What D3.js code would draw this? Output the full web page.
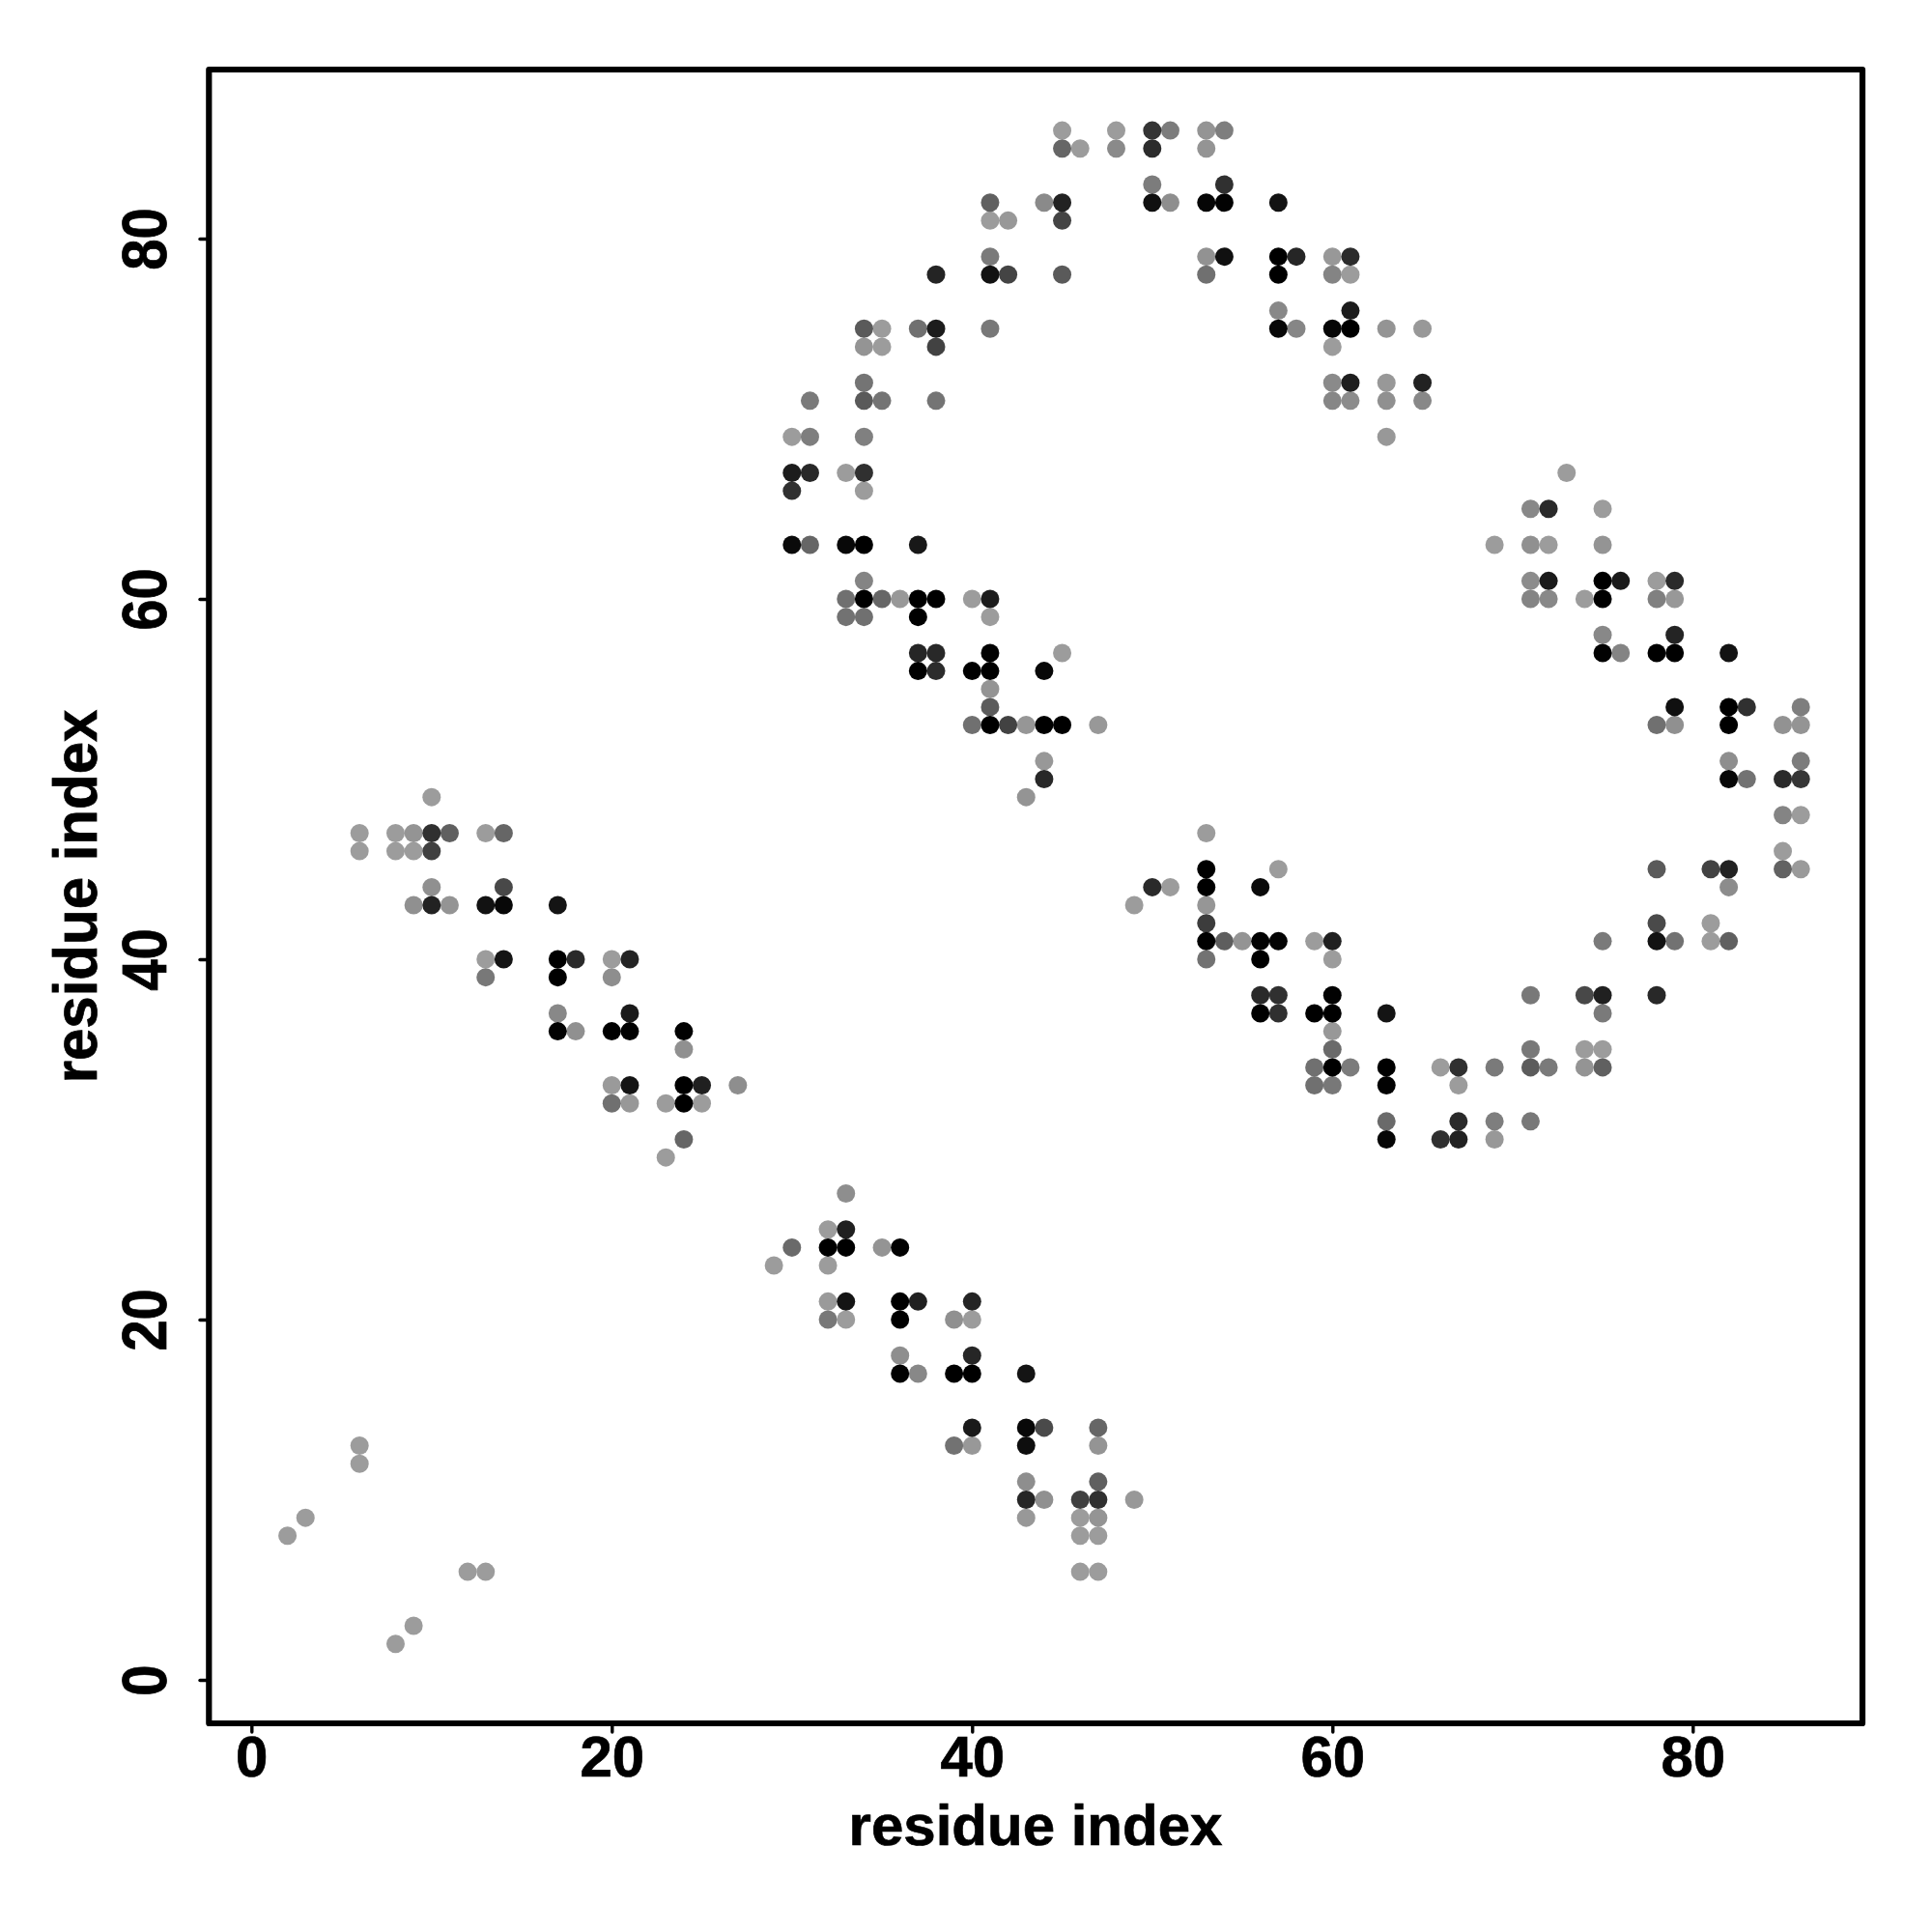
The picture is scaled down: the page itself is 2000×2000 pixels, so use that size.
<!DOCTYPE html>
<html><head><meta charset="utf-8">
<style>html,body{margin:0;padding:0;background:#fff}svg{display:block}</style>
<script src="https://cdn.jsdelivr.net/npm/d3@7/dist/d3.min.js"></script></head>
<body><svg id="c" width="2000" height="2000"></svg>
<script>
const tickValues = [0, 20, 40, 60, 80];
const xTitle = "residue index";
const yTitle = "residue index";
// residue j of each row, residue i of each contact, grey level of each contact
const rowJ = [86,85,83,82,81,79,78,76,75,74,72,71,69,67,66,65,63,61,60,59,58,57,56,55,54,53,51,50,49,48,47,46,45,44,43,42,41,40,39,38,37,36,35,34,33,32,31,30,29,27,25,24,23,21,20,18,17,14,13,12,11,10,9,8,6,3,2];
const rowI = [
[45,48,50,51,53,54],
[45,46,48,50,53],
[50,54],
[41,44,45,50,51,53,54,57],
[41,42,45],
[41,53,54,57,58,60,61],
[38,41,42,45,53,57,60,61],
[57,61],
[34,35,37,38,41,57,58,60,61,63,65],
[34,35,38,60],
[34,60,61,63,65],
[31,34,35,38,60,61,63,65],
[30,31,34,63],
[30,31,33,34,73],
[30,34],
[71,72,75],
[30,31,33,34,37,69,71,72,75],
[34,71,72,75,76,78,79],
[33,34,35,36,37,38,40,41,71,72,74,75,78,79],
[33,34,37,41],
[75,79],
[37,38,41,45,75,76,78,79,82],
[37,38,40,41,44],
[41],
[41,79,82,83,86],
[40,41,42,43,44,45,47,78,79,82,85,86],
[44,82,86],
[44,82,83,85,86],
[10,43],
[85,86],
[6,8,9,10,11,13,14,53],
[6,8,9,10,85],
[53,57,78,81,82,85,86],
[10,14,50,51,53,56,82],
[9,10,11,13,14,17,49,53],
[53,78,81],
[53,54,55,56,57,59,60,75,78,79,81,82],
[13,14,17,18,20,21,53,56,60],
[13,17,20],
[56,57,60,71,74,75,78],
[17,21,56,57,59,60,63,75],
[17,18,20,21,24,60],
[24,60,71,74,75],
[59,60,61,63,66,67,69,71,72,74,75],
[20,21,24,25,27,59,60,63,67],
[20,21,23,24,25],
[63,67,69,71],
[24,63,66,67,69],
[23],
[33],
[32,33],
[30,32,33,35,36],
[29,32],
[32,33,36,37,40],
[32,33,36,39,40],
[36,40],
[36,37,39,40,43],
[40,43,44,47],
[6,39,40,43,47],
[6],
[43,47],
[43,44,46,47,49],
[3,43,46,47],
[2,46,47],
[12,13,46,47],
[9],
[8]
];
const rowShade = [
[0x9c,0x9c,0x34,0x7c,0x94,0x7e],
[0x66,0x9c,0x8a,0x2c,0x94],
[0x7c,0x30],
[0x60,0x8a,0x22,0x10,0x8e,0x06,0x02,0x12],
[0x9c,0x98,0x44],
[0x7a,0x92,0x10,0x00,0x26,0x98,0x2c],
[0x24,0x12,0x44,0x5a,0x70,0x00,0x84,0x9c],
[0x88,0x1c],
[0x5a,0x9c,0x70,0x1c,0x78,0x08,0x86,0x06,0x00,0x94,0x98],
[0x94,0x9c,0x42,0x9c],
[0x74,0x8a,0x1e,0x98,0x22],
[0x7a,0x5a,0x74,0x74,0x86,0x8c,0x90,0x88],
[0x9c,0x7e,0x80,0x98],
[0x1c,0x28,0x9c,0x30,0x9c],
[0x30,0x9c],
[0x88,0x2a,0x9c],
[0x0a,0x66,0x08,0x00,0x18,0x9c,0x90,0x9c,0x94],
[0x84,0x8c,0x1a,0x00,0x1a,0x9c,0x2a],
[0x70,0x00,0x66,0x98,0x00,0x00,0x9c,0x1c,0x84,0x88,0x9c,0x00,0x80,0x98],
[0x72,0x70,0x00,0x9c],
[0x88,0x24],
[0x26,0x28,0x02,0x9c,0x02,0x84,0x00,0x00,0x12],
[0x00,0x2c,0x00,0x00,0x08],
[0x94],
[0x5c,0x10,0x00,0x30,0x7e],
[0x70,0x00,0x42,0x96,0x00,0x00,0x98,0x70,0x90,0x00,0x92,0x94],
[0x98,0x8e,0x7c],
[0x28,0x08,0x72,0x2a,0x36],
[0x9c,0x94],
[0x84,0x9c],
[0x9c,0x9c,0x94,0x30,0x60,0x9c,0x66,0x9c],
[0x9c,0x9c,0x9c,0x40,0x9c],
[0x00,0x9c,0x5a,0x42,0x22,0x62,0x9a],
[0x90,0x48,0x2a,0x9c,0x00,0x0a,0x8c],
[0x90,0x22,0x94,0x12,0x08,0x14,0x9c,0x96],
[0x3c,0x4a,0x9c],
[0x00,0x5e,0x94,0x02,0x04,0x9c,0x20,0x7a,0x12,0x72,0x9c,0x60],
[0x9c,0x14,0x00,0x2a,0x9c,0x24,0x72,0x00,0x9c],
[0x78,0x00,0x8e],
[0x2a,0x30,0x02,0x78,0x48,0x20,0x28],
[0x88,0x1a,0x00,0x30,0x00,0x00,0x14,0x7a],
[0x02,0x90,0x00,0x00,0x02,0x98],
[0x90,0x6a,0x78,0x9c,0x9c],
[0x70,0x00,0x7c,0x00,0x9c,0x30,0x7a,0x5c,0x7a,0x94,0x60],
[0x9a,0x14,0x00,0x20,0x8e,0x70,0x78,0x02,0x9c],
[0x70,0x98,0x9c,0x00,0x9c],
[0x6a,0x2a,0x7e,0x78],
[0x66,0x06,0x30,0x22,0x98],
[0x9c],
[0x8e],
[0x9c,0x20],
[0x6a,0x00,0x00,0x94,0x02],
[0x9c,0x9c],
[0x9a,0x14,0x00,0x20,0x24],
[0x78,0x9c,0x00,0x90,0x9c],
[0x8e,0x26],
[0x02,0x88,0x00,0x00,0x14],
[0x1a,0x08,0x4a,0x66],
[0x9c,0x72,0x98,0x0e,0x94],
[0x9c],
[0x8e,0x60],
[0x26,0x90,0x40,0x30,0x98],
[0x9c,0x98,0x9c,0x94],
[0x9c,0x9c,0x9c],
[0x9c,0x9c,0x9c,0x9c],
[0x9c],
[0x9c]
];

const svg = d3.select("#c");
const x = d3.scaleLinear().domain([0, 80]).range([260.3, 1752.3]);
const y = d3.scaleLinear().domain([0, 80]).range([1739, 247]);
const font = "'Liberation Sans', Arial, sans-serif";

const contacts = rowJ.flatMap((j, r) => rowI[r].map((i, k) => ({i, j, s: rowShade[r][k]})));
// lighter contacts first so darker ones sit on top
contacts.sort((a, b) => b.s - a.s);
svg.append("g").selectAll("circle").data(contacts).join("circle")
  .attr("cx", d => x(d.i)).attr("cy", d => y(d.j)).attr("r", 9.5)
  .attr("fill", d => d3.rgb(d.s, d.s, d.s).formatHex());

svg.append("rect").attr("x", 216.3).attr("y", 72).attr("width", 1711.7).attr("height", 1712)
  .attr("fill", "none").attr("stroke", "#000").attr("stroke-width", 6.2).attr("stroke-linejoin", "round");

const xa = svg.append("g").attr("transform", "translate(0,1784)")
  .call(d3.axisBottom(x).tickValues(tickValues).tickSize(9).tickPadding(0).tickFormat(d3.format("d")));
const ya = svg.append("g").attr("transform", "translate(216,0)")
  .call(d3.axisLeft(y).tickValues(tickValues).tickSize(9).tickPadding(0).tickFormat(d3.format("d")));
[xa, ya].forEach(a => {
  a.select(".domain").remove();
  a.selectAll("line").attr("stroke", "#000").attr("stroke-width", 3.4).attr("stroke-linecap", "round");
  a.selectAll("text").attr("fill", "#000").attr("font-family", font).attr("font-weight", "bold").attr("font-size", 60)
    .attr("stroke", "#000").attr("stroke-width", 0.7);
});
xa.selectAll("text").attr("dy", null).attr("y", 54.5);
ya.selectAll("text").attr("dy", null).attr("x", null).attr("text-anchor", "middle")
  .attr("transform", "translate(-44,0) rotate(-90) scale(0.97,1.07)");

svg.append("text").text(xTitle).attr("x", 1072).attr("y", 1910).attr("text-anchor", "middle")
  .attr("font-family", font).attr("font-weight", "bold").attr("font-size", 60)
  .attr("stroke", "#000").attr("stroke-width", 0.7);
svg.append("text").text(yTitle).attr("transform", "translate(100,928) rotate(-90) scale(1,1.06)").attr("text-anchor", "middle")
  .attr("font-family", font).attr("font-weight", "bold").attr("font-size", 60)
  .attr("stroke", "#000").attr("stroke-width", 0.7);
</script></body></html>
